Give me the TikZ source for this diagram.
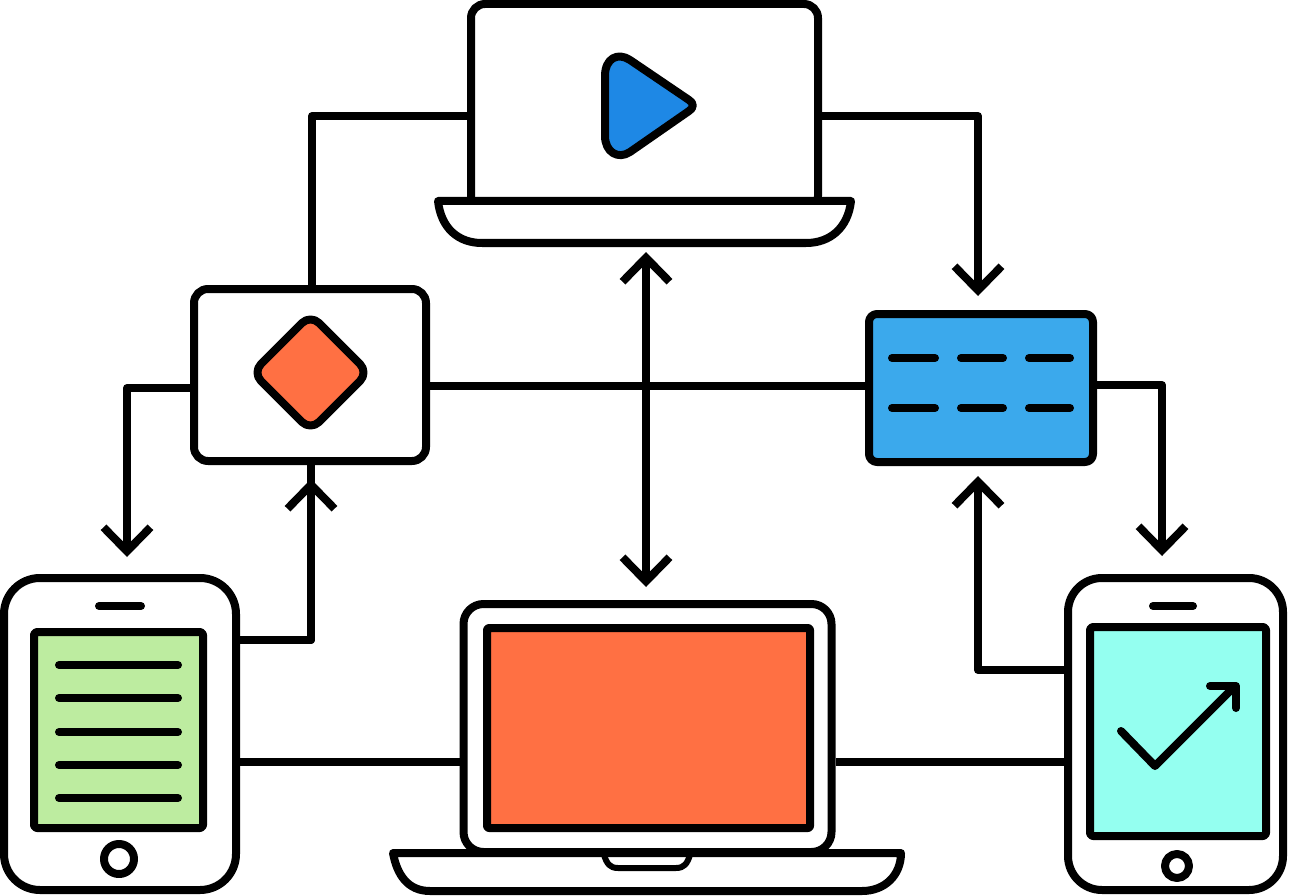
\documentclass[tikz,border=0pt]{standalone}
\usetikzlibrary{arrows.meta}
\definecolor{orangeF}{HTML}{FF7043}
\definecolor{blueP}{HTML}{1E88E5}
\definecolor{blueT}{HTML}{3BA9EC}
\definecolor{greenS}{HTML}{BDECA0}
\definecolor{cyanS}{HTML}{94FFF0}
\tikzset{
  ink/.style={draw=black,line width=8pt,line join=round},
  box/.style={ink,rectangle,inner sep=0pt,fill=white},
  bar/.style={black,line width=8pt,line cap=round},
  wire/.style={black,line width=8pt,line join=round},
  tipped/.style={wire,>={Straight Barb[length=24pt,width=47pt,line width=8pt]}},
}
\begin{document}
\begin{tikzpicture}[x=1pt,y=-1pt]
\useasboundingbox (0,0) rectangle (1293,896);
\fill[white] (0,0) rectangle (1293,896);
% top laptop
\node[box,rounded corners=14pt,minimum width=347pt,minimum height=206pt] (play) at (644.5,107) {};
\draw[ink,fill=white] (438,201) -- (851,201) .. controls (848,228) and (830,243) .. (806,243) -- (482,243) .. controls (458,243) and (441,228) .. (438,201) -- cycle;
\coordinate (topbase) at (646,247);
\draw[ink,fill=blueP] (605,76) .. controls (605,58) and (618,52) .. (630,60) -- (689,100) .. controls (694,103) and (694,108) .. (689,111) -- (630,152) .. controls (618,160) and (605,152) .. (605,136) -- cycle;
% diamond box
\node[box,rounded corners=14pt,minimum width=232pt,minimum height=172pt] (dbox) at (310,375) {};
\draw[ink,fill=orangeF,rounded corners=12pt] (310.5,314.5) -- (368.5,372.5) -- (310.5,430.5) -- (252.5,372.5) -- cycle;
% table box
\node[box,fill=blueT,rounded corners=8pt,minimum width=224pt,minimum height=148pt] (tbl) at (981,388) {};
\foreach \yy in {358,408}{
  \draw[bar] (892,\yy) -- (935,\yy);
  \draw[bar] (961,\yy) -- (1003,\yy);
  \draw[bar] (1029,\yy) -- (1070,\yy);
}
% left phone
\node[box,rounded corners=36pt,minimum width=232pt,minimum height=312pt] (phoneL) at (120,734) {};
\draw[bar] (99,606) -- (141,606);
\node[box,fill=greenS,rounded corners=3pt,minimum width=169pt,minimum height=196pt] (screenL) at (118.5,730) {};
\foreach \yy in {665,698,732,765,798}{\draw[bar] (59,\yy) -- (178,\yy);}
\node[ink,circle,inner sep=0pt,minimum size=30pt,fill=white] (btnL) at (119,859) {};
% right phone
\node[box,rounded corners=34pt,minimum width=215pt,minimum height=312pt] (phoneR) at (1175.5,734) {};
\draw[bar] (1153,606) -- (1193,606);
\node[box,fill=cyanS,rounded corners=3pt,minimum width=176pt,minimum height=209pt] (screenR) at (1178,731.5) {};
\draw[wire,line cap=round] (1121,731) -- (1155,766) -- (1235,686);
\draw[wire,line cap=round] (1210,686) -- (1236,686) -- (1236,708);
\node[ink,circle,inner sep=0pt,minimum size=24pt,fill=white] (btnR) at (1177,866) {};
% centre laptop
\node[box,rounded corners=20pt,minimum width=368pt,minimum height=248pt] (lap) at (647.5,728) {};
\node[box,fill=orangeF,rounded corners=2pt,minimum width=323pt,minimum height=200pt] (lapscreen) at (648.5,728) {};
\draw[ink,fill=white] (393,853) -- (901,853) .. controls (901,875) and (885,891) .. (862,891) -- (430,891) .. controls (408,891) and (397,875) .. (393,853) -- cycle;
\draw[black,line width=6pt,line join=round] (604,855) .. controls (607,864) and (610,868) .. (618,868) -- (676,868) .. controls (684,868) and (687,864) .. (690,855);
% connectors
\draw[wire] ([yshift=-9pt]play.west) -| ([xshift=2pt]dbox.north);
\draw[tipped,->,shorten >=14pt] ([yshift=-9pt]play.east) -| ([xshift=-3pt]tbl.north);
\draw[tipped,<->,shorten <=5pt,shorten >=13pt] (topbase) -- (lap.north -| topbase);
\draw[wire] ([yshift=-11pt]dbox.east) -- ([yshift=2pt]tbl.west);
\draw[tipped,->,shorten >=17pt] ([yshift=-13pt]dbox.west) -| ([xshift=7pt]phoneL.north);
\draw[wire] ([yshift=94pt]phoneL.east) -| ([xshift=1pt]dbox.south);
\draw[tipped,->,shorten >=14pt] ([yshift=94pt]phoneL.east) -| ([xshift=1pt]dbox.south);
\draw[wire] ([yshift=-28pt]phoneL.east) -- ([yshift=-34pt]lap.west);
\draw[wire] ([yshift=-34pt]lap.east) -- ([yshift=-28pt]phoneR.west);
\draw[tipped,->,shorten >=10pt] ([yshift=64pt]phoneR.west) -| ([xshift=-3pt]tbl.south);
\draw[tipped,->,shorten >=18pt] ([yshift=3pt]tbl.east) -| ([xshift=-13.5pt]phoneR.north);
\end{tikzpicture}
\end{document}
